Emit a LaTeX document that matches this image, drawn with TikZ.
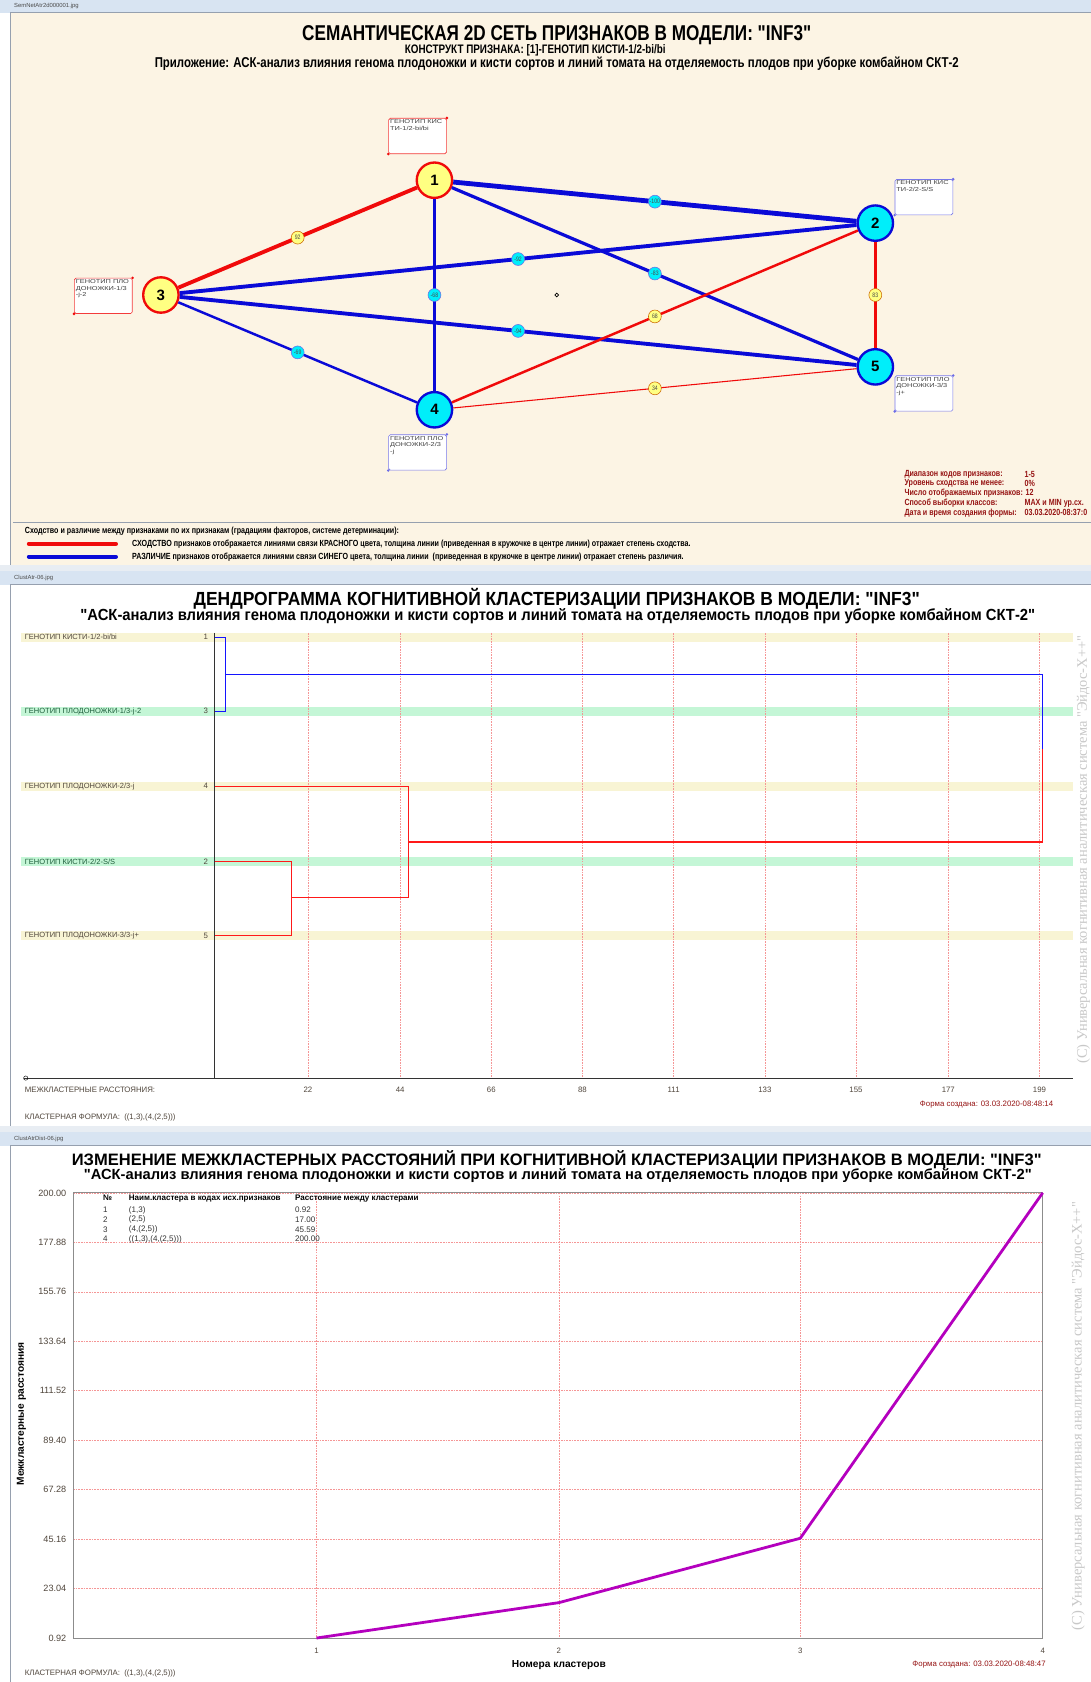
\documentclass[tikz,border=0pt]{standalone}
\usepackage{fontspec}
\setmainfont{Liberation Sans}
\newfontfamily\plainfont{Liberation Sans}
\newfontfamily\narrowfont[FakeStretch=0.8]{Liberation Sans}
\newfontfamily\semifont[FakeStretch=0.92]{Liberation Sans}
\newfontfamily\widefont[FakeStretch=1.3]{Liberation Sans}
\newfontfamily\wmfont{Liberation Serif}
\usetikzlibrary{positioning}
\definecolor{pagebg}{RGB}{232,237,243}
\definecolor{creambg}{RGB}{252,244,228}
\definecolor{barblue}{RGB}{216,228,242}
\definecolor{framegray}{RGB}{150,160,175}
\definecolor{featyel}{RGB}{255,255,130}
\definecolor{featcyan}{RGB}{0,238,250}
\definecolor{difblue}{RGB}{10,10,215}
\definecolor{simred}{RGB}{240,10,10}
\definecolor{infored}{RGB}{150,20,20}
\definecolor{rowyel}{RGB}{248,244,212}
\definecolor{rowgreen}{RGB}{196,246,214}
\definecolor{gridred}{RGB}{245,150,150}
\definecolor{curvemag}{RGB}{180,0,190}
\definecolor{wmgray}{RGB}{200,200,200}
\definecolor{labgreen}{RGB}{30,95,60}
\definecolor{labgray}{RGB}{80,70,60}
\newcommand{\fs}[1]{\fontsize{#1}{#1}\selectfont}

\begin{document}
\begin{tikzpicture}[
    x=1pt, y=-1pt,
    feat yel/.style={circle, draw=simred, fill=featyel, line width=2.2pt,
        minimum size=33pt, inner sep=0pt, font=\bfseries\fs{14}},
    feat cyan/.style={feat yel, draw=difblue, fill=featcyan},
    sim edge/.style={draw=simred},
    dif edge/.style={draw=difblue},
    sim lab/.style={midway, circle, draw=orange!80!black, fill=featyel, line width=0.5pt,
        minimum size=12pt, inner sep=0pt, font=\narrowfont\fs{6}, text=black!70},
    dif lab/.style={sim lab, draw=difblue!60, fill=featcyan},
    name box/.style={draw, fill=white, rounded corners=1.5pt, line width=0.6pt,
        minimum width=54pt, minimum height=33pt, anchor=north west},
    box text/.style={anchor=north west, align=left, inner sep=1.5pt,
        font=\widefont\fontsize{5.3}{6}\selectfont, text=black!75},
    bar title/.style={anchor=west, font=\fs{5.5}, text=black!70, inner sep=0pt},
    row name/.style={anchor=west, font=\fs{7}, inner sep=0pt},
    info/.style={anchor=west, font=\narrowfont\bfseries\fs{8.3}, text=infored, inner sep=0pt},
    small/.style={anchor=west, font=\fs{7.3}, inner sep=0pt},
    tree blue/.style={draw={rgb,255:red,20;green,20;blue,255}, line width=1.1pt},
    tree red/.style={draw={rgb,255:red,255;green,25;blue,25}, line width=1.1pt},
    grid line/.style={draw=gridred, line width=0.5pt, dash pattern=on 1.5pt off 1pt},
    watermark/.style={rotate=90, font=\wmfont\fs{13.5}, text=wmgray}
  ]
  \useasboundingbox (0,0) rectangle (1017,1568);
  \fill[white] (0,0) rectangle (1017,1568);

  % ---------- panel 1: semantic network ----------
  \fill[barblue] (0,0) rectangle (1017,12);
  \node[bar title] (bar1) at (13,6) {SemNetAtr2d000001.jpg};
  \filldraw[fill=creambg, draw=framegray, line width=1pt] (10,12) rectangle (1020,527);
  \fill[pagebg] (0,527) rectangle (1017,532);

  \node[font=\narrowfont\bfseries\fs{20}] (t1) at (519,33) {СЕМАНТИЧЕСКАЯ 2D СЕТЬ ПРИЗНАКОВ В МОДЕЛИ: "INF3"};
  \node[font=\narrowfont\bfseries\fs{11.5}] (t1b) at (499,47) {КОНСТРУКТ ПРИЗНАКА: [1]-ГЕНОТИП КИСТИ-1/2-bi/bi};
  \node[font=\narrowfont\bfseries\fs{13.3}] (t1c) at (519,59) {Приложение: АСК-анализ влияния генома плодоножки и кисти сортов и линий томата на отделяемость плодов при уборке комбайном СКТ-2};

  \node[feat yel] (n1) at (405,168) {1};
  \node[feat cyan] (n2) at (816,208) {2};
  \node[feat yel] (n3) at (150,275) {3};
  \node[feat cyan] (n4) at (405,382) {4};
  \node[feat cyan] (n5) at (816,342) {5};
  \node[circle, draw, inner sep=0pt, minimum size=3.5pt, line width=0.6pt] (ctr) at (519,275) {};

  \draw[dif edge, line width=4.5pt] (n1) -- (n2) node[dif lab] {-100};
  \draw[dif edge, line width=3.6pt] (n3) -- (n2) node[dif lab] {-92};
  \draw[dif edge, line width=3.6pt] (n3) -- (n5) node[dif lab] {-94};
  \draw[dif edge, line width=3pt] (n1) -- (n5) node[dif lab] {-83};
  \draw[dif edge, line width=2.3pt] (n1) -- (n4) node[dif lab] {-68};
  \draw[dif edge, line width=2.3pt] (n3) -- (n4) node[dif lab] {-69};
  \draw[sim edge, line width=3.6pt] (n3) -- (n1) node[sim lab] {92};
  \draw[sim edge, line width=3pt] (n2) -- (n5) node[sim lab] {83};
  \draw[sim edge, line width=2.3pt] (n4) -- (n2) node[sim lab] {68};
  \draw[sim edge, line width=1pt] (n4) -- (n5) node[sim lab] {34};

  \node[name box, draw=simred!80] (b1) at (362,110) {};
  \node[box text] at (b1.north west) {ГЕНОТИП КИС\\ТИ-1/2-bi/bi};
  \node[name box, draw=simred!80] (b3) at (69,259) {};
  \node[box text] at (b3.north west) {ГЕНОТИП ПЛО\\ДОНОЖКИ-1/3\\-j-2};
  \node[name box, draw=difblue!55] (b2) at (834,167) {};
  \node[box text] at (b2.north west) {ГЕНОТИП КИС\\ТИ-2/2-S/S};
  \node[name box, draw=difblue!55] (b5) at (834,350) {};
  \node[box text] at (b5.north west) {ГЕНОТИП ПЛО\\ДОНОЖКИ-3/3\\-j+};
  \node[name box, draw=difblue!55] (b4) at (362,405) {};
  \node[box text] at (b4.north west) {ГЕНОТИП ПЛО\\ДОНОЖКИ-2/3\\-j};
  \foreach \b/\c in {b1/simred, b3/simred, b2/difblue!60, b5/difblue!60, b4/difblue!60} {
    \fill[\c] (\b.north east) circle (1.3pt);
    \fill[\c] (\b.south west) circle (1.3pt);
  }

  \node[info] (i1) at (843,442) {Диапазон кодов признаков:};
  \node[info] (i2) at (843,451) {Уровень сходства не менее:};
  \node[info] (i3) at (843,460) {Число отображаемых признаков: 12};
  \node[info] (i4) at (843,469) {Способ выборки классов:};
  \node[info] (i5) at (843,478) {Дата и время создания формы:};
  \node[info] at (955,442) {1-5};
  \node[info] at (955,451) {0\%};
  \node[info] at (955,469) {MAX и MIN ур.сх.};
  \node[info] at (955,478) {03.03.2020-08:37:0};

  \draw[framegray, line width=0.8pt] (12,487) -- (1017,487);
  \node[info, text=black] (lg) at (23,495) {Сходство и различие между признаками по их признакам (градациям факторов, системе детерминации):};
  \draw[simred, line width=4pt, line cap=round] (27,507) -- (108,507);
  \draw[difblue, line width=4pt, line cap=round] (27,519) -- (108,519);
  \node[info, text=black] (lg1) at (123,507) {СХОДСТВО признаков отображается линиями связи КРАСНОГО цвета, толщина линии (приведенная в кружочке в центре линии) отражает степень сходства.};
  \node[info, text=black] (lg2) at (123,519) {РАЗЛИЧИЕ признаков отображается линиями связи СИНЕГО цвета, толщина линии \ (приведенная в кружочке в центре линии) отражает степень различия.};

  % ---------- panel 2: dendrogram ----------
  \fill[barblue] (0,532) rectangle (1017,545);
  \node[bar title] (bar2) at (13,538.5) {ClustAtr-06.jpg};
  \draw[framegray, line width=1pt] (10,545) rectangle (1020,1050);
  \fill[pagebg] (0,1050) rectangle (1017,1055);

  \node[font=\semifont\bfseries\fs{17.7}] (t2) at (519,558) {ДЕНДРОГРАММА КОГНИТИВНОЙ КЛАСТЕРИЗАЦИИ ПРИЗНАКОВ В МОДЕЛИ: "INF3"};
  \node[font=\semifont\bfseries\fs{15}] (t2b) at (520,574) {"АСК-анализ влияния генома плодоножки и кисти сортов и линий томата на отделяемость плодов при уборке комбайном СКТ-2"};

  \draw[black!40, line width=0.7pt] (20,590) -- (1000,590);
  \foreach \y/\c in {594/rowyel, 663/rowgreen, 733/rowyel, 803/rowgreen, 872/rowyel}
    \fill[\c] (20,\y-4) rectangle (1000,\y+4.5);
  \node[row name, text=labgray] (row1) at (23,594) {ГЕНОТИП КИСТИ-1/2-bi/bi};
  \node[row name, text=labgreen] (row3) at (23,663) {ГЕНОТИП ПЛОДОНОЖКИ-1/3-j-2};
  \node[row name, text=labgray] (row4) at (23,733) {ГЕНОТИП ПЛОДОНОЖКИ-2/3-j};
  \node[row name, text=labgreen] (row2) at (23,803) {ГЕНОТИП КИСТИ-2/2-S/S};
  \node[row name, text=labgray] (row5) at (23,872) {ГЕНОТИП ПЛОДОНОЖКИ-3/3-j+};
  \foreach \y/\k in {594/1, 663/3, 733/4, 803/2, 872/5}
    \node[small, anchor=east, text=labgray] at (194,\y) {\k};

  \foreach \x/\d in {287/22, 373/44, 458/66, 543/88, 628/111, 713/133, 798/155, 884/177, 969/199} {
    \draw[grid line] (\x,590) -- (\x,1005);
    \node[small, anchor=center, text=labgray] at (\x,1016) {\d};
  }
  \draw[black!80, line width=0.8pt] (200,590) -- (200,1005);
  \draw[black!80, line width=0.8pt] (22,1005) -- (1000,1005);
  \node[circle, draw, inner sep=0pt, minimum size=4pt] (orig) at (24,1005) {};

  \coordinate (r1) at (200,594);
  \coordinate (r3) at (200,663);
  \coordinate (r4) at (200,733);
  \coordinate (r2) at (200,803);
  \coordinate (r5) at (200,872);
  \coordinate (j13) at (210,629);
  \coordinate (j25) at (272,837);
  \coordinate (j425) at (381,785);
  \coordinate (root) at (972,698);
  \draw[tree blue] (r1) -| (j13) |- (r3);
  \draw[tree blue] (j13) -| (root);
  \draw[tree red] (root) |- (j425);
  \draw[tree red] (r4) -| (j425) |- (j25);
  \draw[tree red] (r2) -| (j25) |- (r5);

  \node[watermark] (wm2) at (1010,792) {(C) Универсальная когнитивная аналитическая система "Эйдос-Х++"};
  \node[small, text=labgray] (dist) at (23,1016) {МЕЖКЛАСТЕРНЫЕ РАССТОЯНИЯ:};
  \node[small, anchor=east, text=infored] (date2) at (982,1030) {Форма создана: 03.03.2020-08:48:14};
  \node[small, text=labgray] (form2) at (23,1042) {КЛАСТЕРНАЯ ФОРМУЛА: \ ((1,3),(4,(2,5)))};

  % ---------- panel 3: distances ----------
  \fill[barblue] (0,1055) rectangle (1017,1068);
  \node[bar title] (bar3) at (13,1061.5) {ClustAtrDist-06.jpg};
  \draw[framegray, line width=1pt] (10,1068) rectangle (1020,1575);

  \node[font=\plainfont\bfseries\fs{15.4}] (t3) at (519,1081) {ИЗМЕНЕНИЕ МЕЖКЛАСТЕРНЫХ РАССТОЯНИЙ ПРИ КОГНИТИВНОЙ КЛАСТЕРИЗАЦИИ ПРИЗНАКОВ В МОДЕЛИ: "INF3"};
  \node[font=\plainfont\bfseries\fs{13.7}] (t3b) at (520,1096) {"АСК-анализ влияния генома плодоножки и кисти сортов и линий томата на отделяемость плодов при уборке комбайном СКТ-2"};

  \foreach \i/\v in {0/200.00, 1/177.88, 2/155.76, 3/133.64, 4/111.52, 5/89.40, 6/67.28, 7/45.16, 8/23.04, 9/0.92} {
    \draw[grid line] (68,1112+\i*46.11) -- (972,1112+\i*46.11);
    \node[small, anchor=east, font=\fs{8.5}, text=labgray] at (62,1112+\i*46.11) {\v};
  }
  \foreach \x/\k in {295/1, 521/2, 746/3, 972/4} {
    \draw[grid line] (\x,1112) -- (\x,1527);
    \node[small, anchor=center, text=labgray] at (\x,1539) {\k};
  }
  \draw[black!45, line width=0.8pt] (68,1112) rectangle (972,1527);

  \node[small, font=\bfseries\fs{7.5}] (h1) at (96,1117) {№};
  \node[small, font=\bfseries\fs{7.5}] (h2) at (120,1117) {Наим.кластера в кодах исх.признаков};
  \node[small, font=\bfseries\fs{7.5}] (h3) at (275,1117) {Расстояние между кластерами};
  \foreach \i/\c/\d in {1/{(1,3)}/0.92, 2/{(2,5)}/17.00, 3/{(4,(2,5))}/45.59, 4/{((1,3),(4,(2,5)))}/200.00} {
    \node[small, font=\fs{7.5}, text=black!80] at (96,1119+\i*9) {\i};
    \node[small, font=\fs{7.5}, text=black!80] at (120,1119+\i*9) {\c};
    \node[small, font=\fs{7.5}, text=black!80] at (275,1119+\i*9) {\d};
  }

  \coordinate (p1) at (295,1527);
  \coordinate (p2) at (521,1494);
  \coordinate (p3) at (746,1434);
  \coordinate (p4) at (972,1112);
  \draw[curvemag, line width=2.6pt, line join=round] (p1) -- (p2) -- (p3) -- (p4);

  \node[rotate=90, font=\bfseries\fs{9.5}] (ylab) at (20,1318) {Межкластерные расстояния};
  \node[font=\bfseries\fs{9.5}] (xlab) at (521,1552) {Номера кластеров};
  \node[small, anchor=east, text=infored] (date3) at (975,1552) {Форма создана: 03.03.2020-08:48:47};
  \node[small, text=labgray] (form3) at (23,1560) {КЛАСТЕРНАЯ ФОРМУЛА: \ ((1,3),(4,(2,5)))};
  \node[watermark] (wm3) at (1005,1320) {(C) Универсальная когнитивная аналитическая система "Эйдос-Х++"};

\end{tikzpicture}
\end{document}
